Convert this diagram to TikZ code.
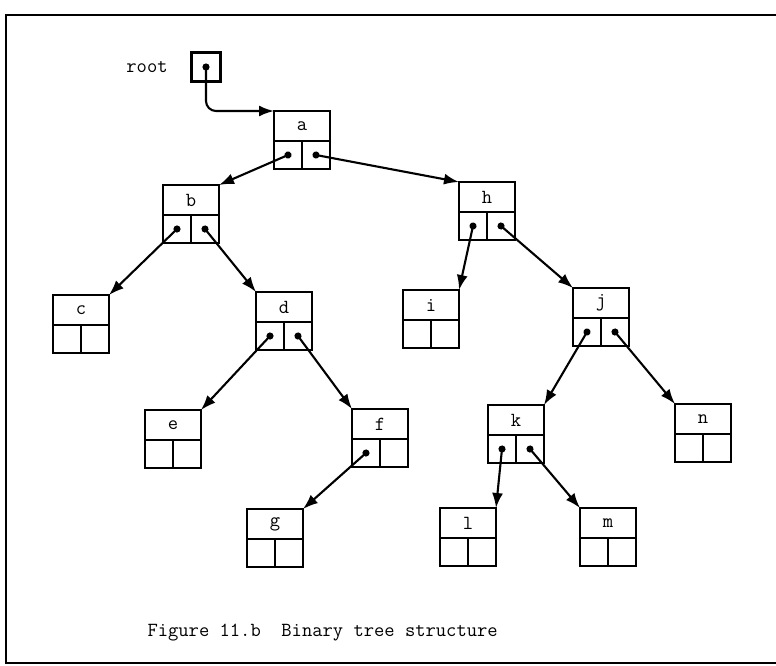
\documentclass[tikz,border=0pt]{standalone}
\usepackage{tikz}
\usetikzlibrary{arrows.meta,positioning}

% one record: label cell on top, two pointer cells below
\newcommand{\treerec}[3]{%
  \node[head](#1) at (#2){#3};
  \node[cell,anchor=north east](#1L) at (#1.south){};
  \node[cell,anchor=north west](#1R) at (#1.south){};
}

\begin{document}
\begin{tikzpicture}[x=1pt,y=-1pt,font=\ttfamily\fontsize{20}{24}\selectfont]
	\useasboundingbox (0,0) rectangle (776,665);
	
	\tikzstyle{head}=[draw,line width=2.3pt,minimum width=56pt,minimum height=30pt,inner sep=0pt,outer sep=0pt]
	
	\tikzstyle{cell}=[draw,line width=2.3pt,minimum width=28pt,minimum height=28pt,inner sep=0pt,outer sep=0pt]
	
	\tikzstyle{link}=[{Circle[length=7pt]}-{Latex[length=15pt,width=11pt]},shorten <=-3.5pt,line width=2.1pt]
	
	\node(rootText) at (147,67){root};
	\node[draw,line width=2.3pt,minimum size=29pt,inner sep=0pt,outer sep=0pt](rootBox) at (206,67){};
	
	\treerec{a}{302,126}{a}
	\treerec{b}{191,200}{b}
	\treerec{h}{487,197}{h}
	\treerec{c}{81,310}{c}
	\treerec{d}{284,307}{d}
	\treerec{i}{431,305}{i}
	\treerec{j}{601,303}{j}
	\treerec{e}{173,425}{e}
	\treerec{f}{380,424}{f}
	\treerec{k}{516,420}{k}
	\treerec{n}{703,419}{n}
	\treerec{g}{275,524}{g}
	\treerec{l}{468,523}{l}
	\treerec{m}{608,523}{m}
	
	\draw[link,rounded corners=10pt] (rootBox.center) |- (a.north west);
	
	\draw[link] (aL.center) -- (b.north east);
	\draw[link] (aR.center) -- (h.north west);
	
	\draw[link] (bL.center) -- (c.north east);
	\draw[link] (bR.center) -- (d.north west);
	\draw[link] (hL.center) -- (i.north east);
	\draw[link] (hR.center) -- (j.north west);
	
	\draw[link] (dL.center) -- (e.north east);
	\draw[link] (dR.center) -- (f.north west);
	\draw[link] (jL.center) -- (k.north east);
	\draw[link] (jR.center) -- (n.north west);
	
	\draw[link] (fL.center) -- (g.north east);
	\draw[link] (kL.center) -- (l.north east);
	\draw[link] (kR.center) -- (m.north west);
	
	\node[anchor=west](caption) at (144,633){Figure 11.b~~Binary tree structure};
	
	\draw[line width=2.6pt] (776,15) -| (6,663) -- (776,663);
	
\end{tikzpicture}
\end{document}
